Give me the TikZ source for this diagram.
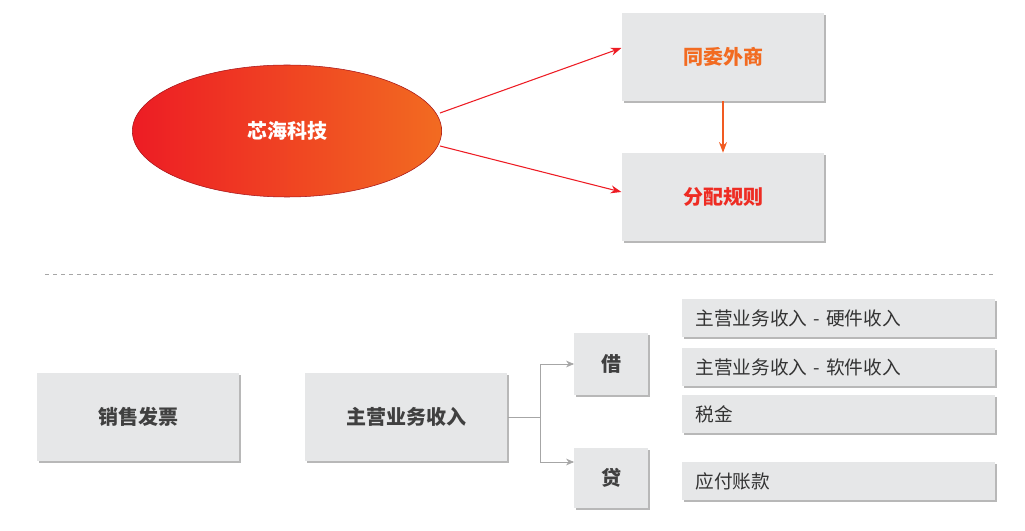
\documentclass[tikz,border=0pt]{standalone}
\usepackage{fontspec}
\newfontfamily\cjk{Noto Sans CJK SC}
\usetikzlibrary{shapes.geometric,shadows,arrows.meta}
\definecolor{boxgray}{HTML}{E6E7E8}
\definecolor{hotred}{HTML}{ED1C24}
\definecolor{hotorange}{HTML}{F26B21}
\tikzset{
    grbox/.style={fill=boxgray,draw=none,inner sep=0pt,
        drop shadow={shadow xshift=1.5pt,shadow yshift=-1.5pt,fill=black!35,opacity=.8},
        font=\cjk\bfseries\fontsize{15}{18}\selectfont,text=black!75},
    itembox/.style={grbox,minimum width=234.75pt,minimum height=28.5pt,
        font=\cjk\fontsize{14}{17}\selectfont,text=black!80,
        text width=214pt,align=left},
    redarrow/.style={draw=hotred,thick,-{Stealth[length=8pt,width=6pt]}},
    grayarrow/.style={draw=black!35,-{Stealth[length=6pt,width=5pt]}}
}
\begin{document}
\begin{tikzpicture}[x=0.75pt,y=-0.75pt]
    \useasboundingbox (0,0) rectangle (1025,531);
    % top part
    \node[ellipse,minimum width=232pt,minimum height=99pt,left color=hotred,right color=hotorange,
        draw=hotred!70!black,thin,font=\cjk\bfseries\fontsize{15}{18}\selectfont,text=white]
        (xinhai) at (287,131) {芯海科技};
    \node[grbox,minimum width=152pt,minimum height=66pt,text=hotorange] (weiwai) at (723,57) {同委外商};
    \node[grbox,minimum width=152pt,minimum height=66pt,text=hotred!80!hotorange] (guize) at (723,197) {分配规则};
    \draw[redarrow] (440,113) -- (weiwai.west|-0,48) coordinate (a1);
    \draw[redarrow] (440,146) -- (guize.west|-0,192);
    \draw[redarrow,draw=hotorange!80!hotred] (weiwai) -- (guize);

    \draw[dashed,black!35] (45,274) -- (995,274);

    % bottom part
    \node[grbox,minimum width=152pt,minimum height=66pt] (fapiao) at (138,417) {销售发票};
    \node[grbox,minimum width=152pt,minimum height=66pt] (shouru) at (406,417) {主营业务收入};
    \node[grbox,minimum width=55pt,minimum height=46.5pt] (jie) at (611,364) {借};
    \node[grbox,minimum width=55pt,minimum height=45pt] (dai) at (611,478) {贷};
    \coordinate (fork) at (540,417);
    \draw[black!35] (shouru.east) -- (fork);
    \draw[grayarrow] (fork) |- (jie.west|-0,364);
    \draw[grayarrow] (fork) |- (dai.west|-0,462);

    \node[itembox] (yingjian) at (838,318) {主营业务收入 - 硬件收入};
    \node[itembox] (ruanjian) at (838,367) {主营业务收入 - 软件收入};
    \node[itembox] (shuijin) at (838,414) {税金};
    \node[itembox] (yingfu) at (838,481) {应付账款};
\end{tikzpicture}
\end{document}
